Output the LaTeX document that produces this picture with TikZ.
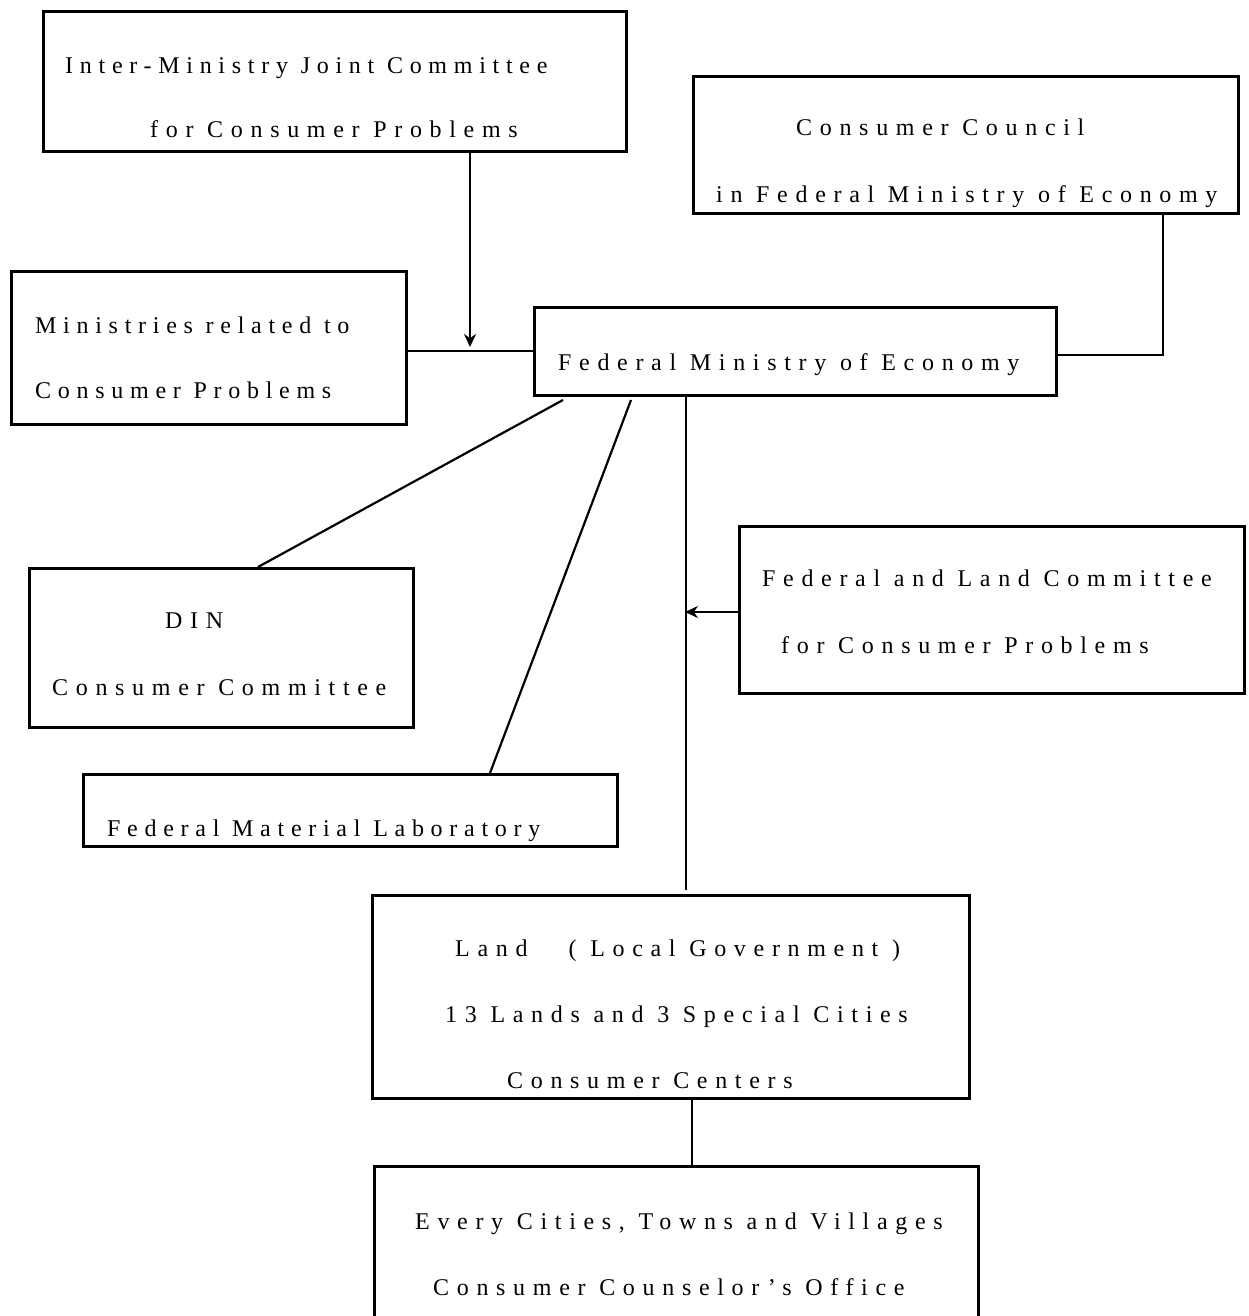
\documentclass[tikz,border=0pt]{standalone}
\usepackage{fontspec}
\setmainfont[LetterSpace=32]{Liberation Serif}
\usetikzlibrary{arrows.meta}
\begin{document}
\begin{tikzpicture}[x=1pt,y=-1pt,
  box/.style={draw,line width=2.6pt,rectangle,inner sep=0pt,anchor=north west},
  lbl/.style={anchor=base west,inner sep=0pt,font=\fontsize{24}{28}\selectfont},
  tight/.style={font=\fontsize{24}{28}\selectfont\addfontfeature{LetterSpace=28}},
  link/.style={line width=2.2pt},
  arr/.style={link,-{Stealth[length=13pt,width=12pt]}}]
\useasboundingbox[fill=white] (0,0) rectangle (1249,1316);

% boxes
\node[box,minimum width=583pt,minimum height=140pt] (imc) at (42,10) {};
\node[box,minimum width=545pt,minimum height=137pt] (cc) at (692,75) {};
\node[box,minimum width=395pt,minimum height=153pt] (mr) at (10,270) {};
\node[box,minimum width=522pt,minimum height=88pt] (fme) at (533,306) {};
\node[box,minimum width=384pt,minimum height=159pt] (din) at (28,567) {};
\node[box,minimum width=534pt,minimum height=72pt] (fml) at (82,773) {};
\node[box,minimum width=505pt,minimum height=167pt] (flc) at (738,525) {};
\node[box,minimum width=597pt,minimum height=203pt] (land) at (371,894) {};
\node[box,minimum width=604pt,minimum height=180pt] (every) at (373,1165) {};

% texts
\node[lbl,tight] (t1) at (65,74) {Inter-Ministry Joint Committee};
\node[lbl] (t2) at (150,138) {for Consumer Problems};
\node[lbl] (t3) at (796,136) {Consumer Council};
\node[lbl] (t4) at (716,203) {in Federal Ministry of Economy};
\node[lbl,tight] (t5) at (35,333) {Ministries related to};
\node[lbl,tight] (t6) at (35,398) {Consumer Problems};
\node[lbl] (t7) at (558,370) {Federal Ministry of Economy};
\node[lbl] (t8) at (165,628) {DIN};
\node[lbl] (t9) at (52,695) {Consumer Committee};
\node[lbl,tight] (t10) at (107,836) {Federal Material Laboratory};
\node[lbl] (t11) at (762,586) {Federal and Land Committee};
\node[lbl] (t12) at (781,653) {for Consumer Problems};
\node[lbl] (t13) at (455,956) {Land\ \ \ ( Local Government )};
\node[lbl] (t14) at (445,1022) {13 Lands and 3 Special Cities};
\node[lbl] (t15) at (507,1088) {Consumer Centers};
\node[lbl] (t16) at (415,1229) {Every Cities, Towns and Villages};
\node[lbl] (t17) at (433,1295) {Consumer Counselor's Office};

% connectors
\coordinate (a1) at (470,347);
\draw[arr] (imc.south -| a1) -- (a1);
\draw[link] (mr.east |- 0,351) -- (fme.west |- 0,351);
\draw[link] (cc.south -| 1163,0) -- (1163,355) -- (fme.east |- 0,355);
\draw[link] (563,400) -- (din.north -| 258,0);
\draw[link] (631,400) -- (fml.north -| 490,0);
\coordinate (v1) at (686,890);
\draw[link] (fme.south -| v1) -- (v1);
\coordinate (a2) at (685,612);
\draw[arr] (flc.west |- a2) -- (a2);
\draw[link] (land.south -| 692,0) -- (every.north -| 692,0);
\end{tikzpicture}
\end{document}
